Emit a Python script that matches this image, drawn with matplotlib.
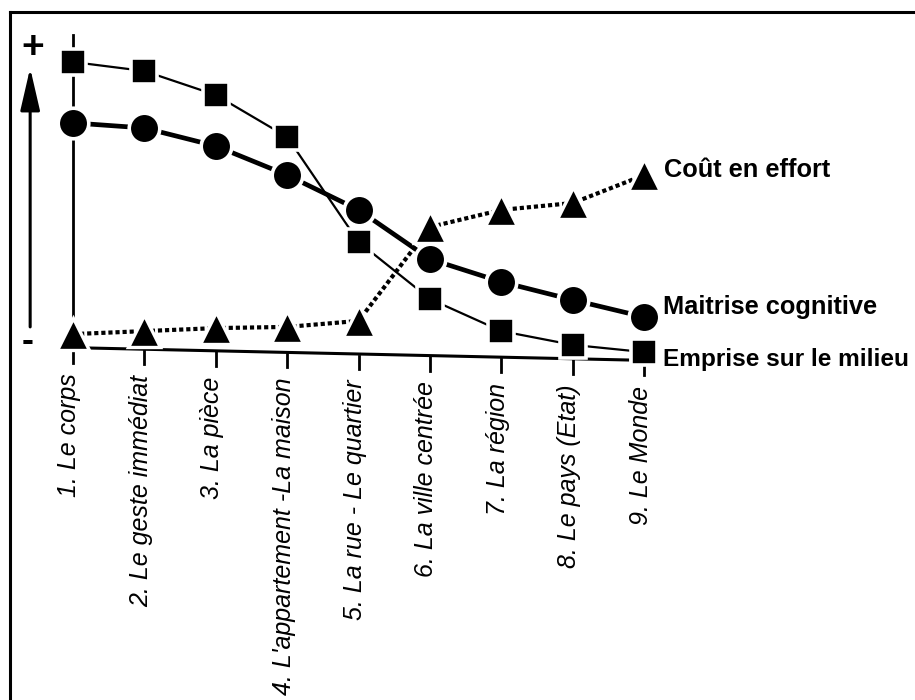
import numpy as np
import matplotlib.pyplot as plt
from matplotlib.lines import Line2D

plt.rcParams['font.family'] = ['Liberation Sans', 'DejaVu Sans']

# échelles spatiales (axe horizontal)
categories = ["1. Le corps", "2. Le geste immédiat", "3. La pièce",
              "4. L'appartement -La maison", "5. La rue - Le quartier",
              "6. La ville centrée", "7. La région", "8. Le pays (Etat)",
              "9. Le Monde"]

# niveaux relatifs (0 = ligne de base, 100 = haut)
emprise = [96, 93, 85, 71, 36, 17, 6.3, 1.7, -0.7]
maitrise = [75.7, 74, 68, 58.3, 46.7, 30.3, 22.7, 16.7, 11]
cout = [5.3, 6.3, 7.3, 7.7, 9.7, 41, 46.7, 49, 58.3]

x = np.arange(1, len(categories) + 1)

fig = plt.figure(figsize=(9.15, 7), dpi=100)
ax = fig.add_axes([0, 0, 1, 1])
ax.set_xlim(-0.0224, 12.793)
ax.set_ylim(-116.67, 116.67)
ax.axis('off')

# cadre (haut et gauche seulement)
fig.add_artist(Line2D([10/915, 1], [1 - 12/700, 1 - 12/700], color='black', lw=2.2))
fig.add_artist(Line2D([10/915, 10/915], [0, 1 - 12/700], color='black', lw=2.2))

# trait vertical au niveau 1
ax.plot([x[0], x[0]], [cout[0] + 4, 105], color='black', lw=2)

# ligne de base inclinée + graduations
def base(xx):
    return 0.67 - (xx - 1.21) * 4 / 7.56

bx = np.array([x[0] + 0.21, x[-1] - 0.23])
ax.plot(bx, base(bx), color='black', lw=2.2)
for xi, lab in zip(x, categories):
    b = base(xi)
    ax.plot([xi, xi], [b - 0.5, b - 5], color='black', lw=2)
    ax.text(xi - 0.05, b - 8.5, lab, rotation=90, ha='center', va='top',
            fontsize=18, style='italic')

# séries
ax.plot(x, emprise, color='black', lw=1.6, marker='s', ms=19,
        mfc='black', mec='white', mew=2.6, zorder=3)
ax.plot(x, maitrise, color='black', lw=3.4, marker='o', ms=22,
        mfc='black', mec='white', mew=2.6, zorder=4)
ax.plot(x, cout, color='black', lw=3, ls=(0, (1, 0.7)), marker='^', ms=23.5,
        mfc='black', mec='white', mew=2.4, zorder=5)

# étiquettes des courbes
ax.text(x[-1] + 0.28, cout[-1] + 1.7, "Coût en effort", fontsize=18.3,
        fontweight='bold', va='center', ha='left')
ax.text(x[-1] + 0.27, maitrise[-1] + 3.3, "Maitrise cognitive", fontsize=18.3,
        fontweight='bold', va='center', ha='left')
ax.text(x[-1] + 0.27, emprise[-1] - 2.6, "Emprise sur le milieu", fontsize=17.6,
        fontweight='bold', va='center', ha='left')

# flèche verticale + / -
ax.annotate('', xy=(0.40, 94), xytext=(0.40, 7.7),
            arrowprops=dict(arrowstyle='-|>,head_length=2.6,head_width=0.6',
                            lw=2.2, color='black', shrinkA=0, shrinkB=0))
ax.text(0.43, 100.7, '+', fontsize=28, fontweight='bold', ha='center', va='center')
ax.text(0.37, 2.7, '-', fontsize=26, fontweight='bold', ha='center', va='center')

fig.savefig('out.png', dpi=100, facecolor='white')
